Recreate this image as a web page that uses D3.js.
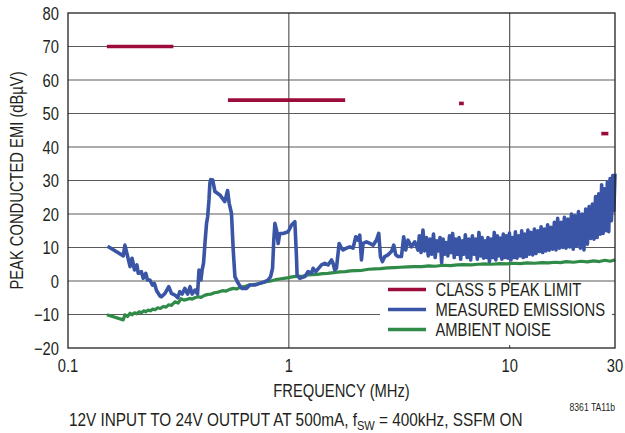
<!DOCTYPE html>
<html><head><meta charset="utf-8">
<script src="https://cdn.jsdelivr.net/npm/d3@7"></script>
<style>
html,body{margin:0;padding:0;background:#fff;}
svg{display:block;}
text{font-family:"Liberation Sans",Arial,sans-serif;fill:#231f20;}
</style></head>
<body>
<svg id="c" width="625" height="433"></svg>
<script>
// ---- data ----
const yTicks = [-20,-10,0,10,20,30,40,50,60,70,80];
const yTickLabels = ["\u221220","\u221210","0","10","20","30","40","50","60","70","80"];
const xTicks = [0.1,1,10,30];
const xTickLabels = ["0.1","1","10","30"];
const xGrid = [1,10];

const seriesNames = ["CLASS 5 PEAK LIMIT","MEASURED EMISSIONS","AMBIENT NOISE"];
const seriesColors = ["#9b0c3b","#3a55a5","#2f8b47"];

// Class 5 peak limit segments: [fStart, fEnd, dBuV]
const limitSegments = [
  [0.15,0.30,70],
  [0.53,1.8,54],
  [5.9,6.2,53],
  [26,28,44]
];

// Measured emissions [MHz, dBuV]
const measured = [
[0.151,10.4],[0.178,7.5],[0.181,10.7],[0.186,7.5],[0.191,4.3],[0.195,6.8],[0.2,3.3],[0.205,4.8],
[0.208,2.3],[0.215,2.8],[0.219,0.8],[0.225,2.3],[0.229,0.3],[0.235,0.3],[0.241,-1.2],[0.246,-0.7],
[0.252,-2.9],[0.261,-4.5],[0.265,-4.7],[0.275,-3.7],[0.286,-1.7],[0.294,-3.7],[0.305,-4.2],[0.314,-5.0],
[0.321,-3.2],[0.329,-3.9],[0.338,-2.2],[0.348,-3.9],[0.357,-1.7],[0.365,-3.9],[0.376,-2.7],[0.386,-3.9],
[0.392,3.3],[0.4,0.3],[0.405,3.3],[0.411,5.3],[0.417,11.2],[0.424,17.2],[0.429,19.2],[0.435,24.2],
[0.439,29.2],[0.443,30.3],[0.448,29.5],[0.452,30.2],[0.463,26.7],[0.487,25.7],[0.513,23.7],[0.528,27],
[0.537,23.2],[0.55,20.2],[0.56,9.3],[0.57,1.3],[0.59,-0.7],[0.611,-2.2],[0.644,-2.2],[0.666,-1.2],
[0.702,-1.2],[0.739,-0.7],[0.779,-0.2],[0.806,0.3],[0.827,1.3],[0.844,3.8],[0.855,12.2],[0.865,17.2],
[0.88,15.2],[0.895,11.2],[0.91,14.2],[0.942,14.2],[0.993,14.7],[1.029,16.7],[1.065,17.7],[1.083,7.3],
[1.09,1.8],[1.121,0.8],[1.181,1.3],[1.223,2.8],[1.267,2.3],[1.288,3.8],[1.325,2.8],[1.406,4.8],
[1.455,5.3],[1.506,4.8],[1.561,6.3],[1.586,5.3],[1.615,3.3],[1.643,3.8],[1.69,11.2],[1.732,9.8],
[1.761,9.25],[1.824,9.8],[1.888,10.2],[1.954,9.8],[2.01,13.2],[2.059,12.2],[2.095,13.7],[2.133,6.3],
[2.168,11.2],[2.247,11.7],[2.326,11.2],[2.407,10.7],[2.494,12.2],[2.554,14.2],[2.6,7.3],[2.655,5.8],
[2.719,7.3],[2.814,7.8],[2.915,8.8],[2.987,10.7],[3.05,7.8],[3.124,7.3],[3.236,7.3],[3.313,13.2],
[3.383,9.25],[3.465,12.2],[3.59,10.2],[3.717,11.7],[3.846,9.25],
[3.9,13.5],[3.97,8.5],[4.05,15.2],[4.12,9],[4.2,13],[4.28,7.5],[4.36,12.5],[4.44,8],[4.52,14],[4.6,7],
[4.68,12],[4.76,9],[4.84,13],[4.92,5.5],[5.0,12.5],[5.08,8],[5.16,11.5],[5.25,7.5],[5.34,13.5],[5.43,8.5],
[5.52,14.2],[5.61,7],[5.7,12.5],[5.8,8],[5.9,13],[6.0,6.5],[6.1,12],[6.2,8],[6.3,13.8],[6.42,7],
[6.54,12.5],[6.66,6.3],[6.78,13.5],[6.9,8],[7.02,12.5],[7.14,6.5],[7.26,14.5],[7.38,7.5],[7.5,13],[7.62,6.8],
[7.74,12],[7.86,7],[7.98,13],[8.1,5.8],[8.24,12.5],[8.38,7],[8.52,14.5],[8.66,6.3],[8.8,13.5],[8.94,7.5],
[9.08,12.8],[9.22,6.5],[9.36,14],[9.5,7],[9.66,13.5],[9.82,6.8],[9.98,14.3],[10.14,6.3],[10.3,13],[10.46,7],
[10.62,14.7],[10.8,6.8],[10.98,13.5],[11.16,7.5],[11.34,15],[11.52,7],[11.7,14],[11.9,7.3],[12.1,15.2],[12.3,8],
[12.5,14.5],[12.72,7.8],[12.94,15.5],[13.16,8.2],[13.4,15],[13.64,8.8],[13.88,16.2],[14.12,8.5],[14.36,15.5],[14.6,9],
[14.86,16.8],[15.12,9.2],[15.38,16],[15.66,9.5],[15.94,17.5],[16.22,9.3],[16.5,18.7],[16.8,9.8],[17.1,17.5],[17.4,10],
[17.7,19],[18.0,9.8],[18.35,18.5],[18.7,10.2],[19.05,20],[19.4,9.5],[19.75,19.5],[20.1,10.5],[20.5,20.7],[20.9,9.8],
[21.3,20],[21.7,9.3],[22.1,21.5],[22.5,11],[22.9,22.2],[23.3,12.7],[23.7,23],[24.1,12.5],[24.5,25.2],[24.9,13],
[25.3,26],[25.7,14],[26.1,28.7],[26.5,14.2],[26.9,27.5],[27.3,15],[27.7,29.5],[28.1,14.7],[28.5,30.6],[28.9,18],
[29.3,31.5],[29.65,21],[30.0,32]
];

// Ambient noise [MHz, dBuV]
const ambient = [
[0.15,-10.1],[0.178,-11.6],[0.181,-10.1],[0.186,-10.6],[0.191,-9.6],[0.195,-10.1],[0.2,-9.5],[0.205,-9.8],
[0.21,-9.2],[0.215,-9.5],[0.22,-8.9],[0.225,-9.2],[0.23,-8.7],[0.236,-8.9],[0.242,-8.4],[0.248,-8.6],
[0.255,-8.0],[0.262,-8.2],[0.27,-7.6],[0.278,-7.8],[0.286,-7.1],[0.294,-7.3],[0.305,-6.2],[0.315,-6.6],
[0.325,-5.3],[0.335,-5.7],[0.345,-5.5],[0.355,-5.2],[0.365,-5.4],[0.375,-5.0],[0.39,-4.7],[0.4,-4.9],
[0.415,-4.3],[0.43,-4.0],[0.445,-3.9],[0.46,-3.5],[0.48,-3.3],[0.5,-2.9],[0.52,-3.0],[0.54,-2.5],
[0.56,-2.2],[0.58,-2.4],[0.6,-1.9],[0.63,-1.7],[0.66,-1.2],[0.69,-1.1],[0.72,-0.9],[0.75,-0.6],
[0.79,-0.2],[0.83,0.0],[0.87,0.4],[0.91,0.6],[0.95,0.8],[1.0,1.0],[1.05,1.3],[1.1,1.4],
[1.16,1.5],[1.22,1.8],[1.28,1.9],[1.35,2.0],[1.42,2.2],[1.5,2.3],[1.6,2.5],[1.7,2.7],
[1.8,2.8],[1.9,3.0],[2.0,3.1],[2.15,3.2],[2.3,3.5],[2.45,3.6],[2.6,3.7],[2.8,3.9],
[3.0,4.0],[3.2,4.1],[3.45,4.2],[3.7,4.3],[4.0,4.3],[4.3,4.5],[4.6,4.4],[5.0,4.7],
[5.4,4.6],[5.8,4.8],[6.2,4.9],[6.7,4.8],[7.2,5.0],[7.7,5.1],[8.3,5.0],[9.0,5.2],
[9.7,5.1],[10.4,5.3],[11.2,5.2],[12,5.4],[13,5.3],[14,5.5],[15,5.4],[16,5.6],
[17,5.5],[18,5.8],[19.5,5.6],[21,5.9],[22.5,5.7],[24,6.0],[25.5,5.8],[27,6.2],
[28.5,5.9],[30,6.3]
];

// ---- drawing ----
const svg = d3.select("#c");
const L=68,R=615,T=13,B=348;
const x = d3.scaleLog().domain([0.1,30]).range([L,R]);
const y = d3.scaleLinear().domain([-20,80]).range([B,T]);
const gridCol = "#5a5a5a";
const SX = 0.82; // condensed look

function txt(parent, px, py, str, size, anchor, rot){
  return parent.append("text")
    .attr("transform", `translate(${px},${py})` + (rot?` rotate(${rot})`:"") + ` scale(${SX},1)`)
    .attr("text-anchor", anchor||"start").attr("font-size", size).text(str);
}

// horizontal grid
svg.append("g").selectAll("line").data(yTicks.filter(v=>v>-20&&v<80)).join("line")
  .attr("x1",L).attr("x2",R).attr("y1",d=>y(d)).attr("y2",d=>y(d))
  .attr("stroke",gridCol).attr("stroke-width",1.2);
// vertical grid
svg.append("g").selectAll("line").data(xGrid).join("line")
  .attr("x1",d=>x(d)).attr("x2",d=>x(d)).attr("y1",T).attr("y2",B)
  .attr("stroke",gridCol).attr("stroke-width",1.2);

// legend background (covers grid)
const lgX0 = 380, lgY0 = 283;
svg.append("rect").attr("x",lgX0).attr("y",lgY0).attr("width",R-lgX0).attr("height",B-lgY0).attr("fill","#fff");
svg.append("line").attr("x1",R-3).attr("x2",R).attr("y1",y(-10)).attr("y2",y(-10)).attr("stroke",gridCol).attr("stroke-width",1.2);
svg.append("line").attr("x1",x(10)).attr("x2",x(10)).attr("y1",B-3).attr("y2",B).attr("stroke",gridCol).attr("stroke-width",1.2);

const line = d3.line().x(d=>x(d[0])).y(d=>y(d[1]));

svg.append("path").datum(ambient).attr("d",line).attr("fill","none")
  .attr("stroke",seriesColors[2]).attr("stroke-width",3.2).attr("stroke-linejoin","round");
svg.append("path").datum(measured).attr("d",line).attr("fill","none")
  .attr("stroke",seriesColors[1]).attr("stroke-width",3.6).attr("stroke-linejoin","round");
svg.append("g").selectAll("line").data(limitSegments).join("line")
  .attr("x1",d=>x(d[0])).attr("x2",d=>x(d[1])).attr("y1",d=>y(d[2])).attr("y2",d=>y(d[2]))
  .attr("stroke",seriesColors[0]).attr("stroke-width",3.6);

// frame
svg.append("rect").attr("x",L).attr("y",T).attr("width",R-L).attr("height",B-T)
  .attr("fill","none").attr("stroke","#231f20").attr("stroke-width",1.3);

// tick labels
const gy = svg.append("g");
yTicks.forEach((v,i)=>txt(gy, 59, y(v)+6.5, yTickLabels[i], 18, "end"));
const gx = svg.append("g");
xTicks.forEach((v,i)=>txt(gx, x(v), 372, xTickLabels[i], 18, "middle"));

// axis titles
txt(svg, (L+R)/2, 397, "FREQUENCY (MHz)", 18, "middle");
txt(svg, 23, (T+B)/2, "PEAK CONDUCTED EMI (dB\u00b5V)", 18, "middle", -90);

// legend
const lg = svg.append("g");
seriesNames.forEach((n,i)=>{
  const yy = 289.5 + i*20;
  lg.append("line").attr("x1",388).attr("x2",426).attr("y1",yy).attr("y2",yy)
    .attr("stroke",seriesColors[i]).attr("stroke-width",3.6);
  txt(lg, 435.5, yy+6.5, n, 18, "start");
});

// subtitle
const st = txt(svg, 69, 426, "", 18.7, "start");
st.append("tspan").text("12V INPUT TO 24V OUTPUT AT 500mA, f");
st.append("tspan").attr("font-size",13.5).attr("dy",4).text("SW");
st.append("tspan").attr("dy",-4).text(" = 400kHz, SSFM ON");

txt(svg, 615, 411, "8361 TA11b", 10.5, "end");
</script>
</body></html>
